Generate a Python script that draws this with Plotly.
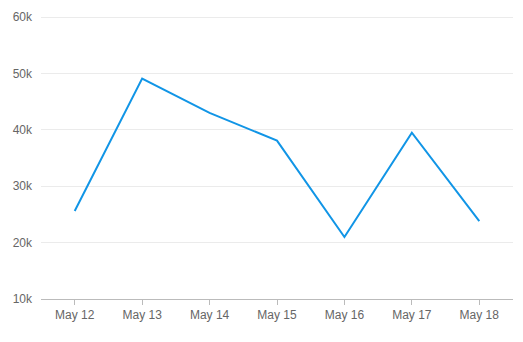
import plotly.graph_objects as go

dates = ["May 12", "May 13", "May 14", "May 15", "May 16", "May 17", "May 18"]
values = [25600, 49100, 43000, 38100, 21000, 39500, 23800]
y_ticks = [10000, 20000, 30000, 40000, 50000, 60000]
y_labels = ["10k", "20k", "30k", "40k", "50k", "60k"]

fig = go.Figure(go.Scatter(
    x=dates, y=values, mode="lines",
    line=dict(color="#1195e6", width=2),
))
fig.update_layout(
    width=523, height=342,
    margin=dict(l=41, r=10, t=16, b=43),
    paper_bgcolor="white", plot_bgcolor="white",
    showlegend=False,
    font=dict(family="Liberation Sans, Arial, sans-serif", size=12, color="#666666"),
)
fig.update_xaxes(
    type="category", range=[-0.5, 6.5],
    showgrid=False, showline=True, linecolor="#bbbbbb", linewidth=1,
    ticks="outside", ticklen=5, tickcolor="#bbbbbb",
    tickfont=dict(size=12, color="#666666"),
)
fig.update_yaxes(
    range=[10000, 60200], tickvals=y_ticks, ticktext=y_labels,
    showgrid=True, gridcolor="#ebebeb", gridwidth=1,
    zeroline=False, showline=False, ticks="", ticklabelstandoff=8,
    tickfont=dict(size=12, color="#666666"),
)
fig.write_html("out.html")
